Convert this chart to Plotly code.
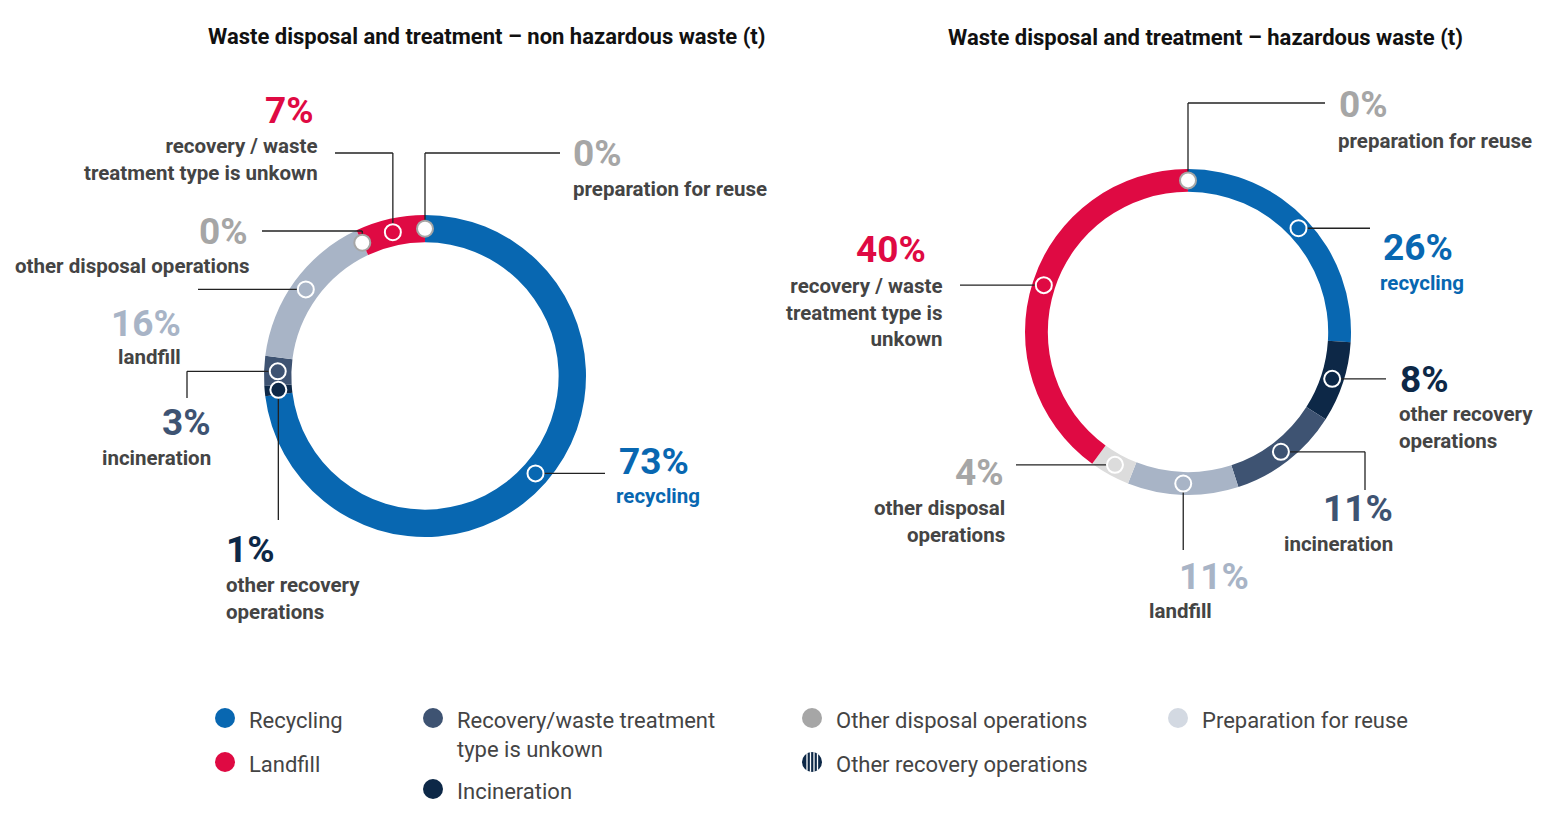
import math
import plotly.graph_objects as go

W, H = 1547, 836
OFF = 8  # page body offset
categories = ["preparation for reuse", "recycling", "other recovery operations", "incineration",
              "landfill", "other disposal operations", "recovery / waste treatment type is unkown"]
non_hazardous = [0, 73, 1, 3, 16, 0, 7]
hazardous = [0, 26, 8, 11, 11, 4, 40]
colors_left = ["#ffffff", "#0867b1", "#0d2847", "#3e5372", "#a8b4c6", "#ffffff", "#df0a43"]
colors_right = ["#ffffff", "#0867b1", "#0d2847", "#3e5372", "#a8b4c6", "#dcdcdc", "#df0a43"]
pct_colors = ["#a6a6a6", "#0867b1", "#0d2847", "#3e5372", "#a8b4c6", "#a6a6a6", "#df0a43"]
titles = ["Waste disposal and treatment – non hazardous waste (t)",
          "Waste disposal and treatment – hazardous waste (t)"]

legend_items = ["Recycling", "Landfill", "Recovery/waste treatment<br>type is unkown", "Incineration",
                "Other disposal operations", "Other recovery operations", "Preparation for reuse"]
legend_colors = ["#0867b1", "#df0a43", "#3e5372", "#0d2847", "#a6a6a6", "#0d2847", "#d3d9e2"]

charts = [
    dict(vals=non_hazardous, cols=colors_left, cx=425, cy=376, R=161, hole=0.83, title_x=487, title_y=36,
         labels=[
             dict(i=0, px=571, py=153, lx=571, ly=189, al="left", path=[(425, 153), (560, 153)]),
             dict(i=1, px=617, py=461, lx=614, ly=496, al="left", path=[(605, None)]),
             dict(i=2, px=224, py=549, lx=224, ly=598, al="left", path=[(None, 520)]),
             dict(i=3, px=213, py=422, lx=213, ly=458, al="right", path=[(187, None), (187, 398)]),
             dict(i=4, px=183, py=323, lx=183, ly=357, al="right", path=[(198, None)]),
             dict(i=5, px=250, py=231, lx=252, ly=266, al="right", path=[(None, 231), (262, 231)]),
             dict(i=6, px=316, py=110, lx=320, ly=159, al="right", path=[(None, 153), (335, 153)]),
         ]),
    dict(vals=hazardous, cols=colors_right, cx=1188, cy=332, R=163, hole=0.86, title_x=1205, title_y=37,
         labels=[
             dict(i=0, px=1337, py=104, lx=1336, ly=141, al="left", path=[(None, 103), (1325, 103)]),
             dict(i=1, px=1381, py=247, lx=1378, ly=283, al="left", path=[(1370, None)]),
             dict(i=2, px=1398, py=379, lx=1397, ly=427, al="left", path=[(1386, None)]),
             dict(i=3, px=1395, py=508, lx=1395, ly=544, al="right", path=[(1365, None), (1365, 490)]),
             dict(i=4, px=1214, py=576, lx=1180, ly=611, al="center", path=[(None, 550)]),
             dict(i=5, px=1006, py=472, lx=1007, ly=521, al="right", path=[(1016, None)]),
             dict(i=6, px=928, py=249, lx=945, ly=312, al="right", path=[(960, None)]),
         ]),
]
label_texts = ["preparation for reuse", "recycling", "other recovery<br>operations", "incineration",
               "landfill", "other disposal operations", "recovery / waste<br>treatment type is unkown"]
label_texts_r = ["preparation for reuse", "recycling", "other recovery<br>operations", "incineration",
                 "landfill", "other disposal<br>operations", "recovery / waste<br>treatment type is<br>unkown"]

fig = go.Figure()
fig.add_trace(go.Scatter(x=[OFF, W + OFF], y=[OFF, H + OFF], mode="markers", marker=dict(opacity=0),
                         hoverinfo="skip", showlegend=False))
shapes, annos = [], []
FONT = "Roboto"

for ci, ch in enumerate(charts):
    vals, R = ch["vals"], ch["R"]
    cxp, cyp = ch["cx"] - OFF, ch["cy"] - OFF
    fig.add_trace(go.Pie(values=vals, labels=categories, hole=ch["hole"], sort=False, direction="clockwise",
                         rotation=0, marker=dict(colors=ch["cols"], line=dict(width=0)), textinfo="none",
                         hoverinfo="skip", showlegend=False,
                         domain=dict(x=[(cxp - R) / W, (cxp + R) / W],
                                     y=[1 - (cyp + R) / H, 1 - (cyp - R) / H])))
    annos.append(dict(x=ch["title_x"], y=ch["title_y"], text="<b>" + titles[ci] + "</b>", showarrow=False,
                      font=dict(family=FONT, size=22, color="#111"), xanchor="center", yanchor="middle"))
    total = sum(vals)
    rmid = R * (1 + ch["hole"]) / 2
    cum = 0
    dots = []
    for v in vals:
        ang = (cum + v / 2) / total * 2 * math.pi
        dots.append((ch["cx"] + rmid * math.sin(ang), ch["cy"] - rmid * math.cos(ang)))
        cum += v
    texts = label_texts if ci == 0 else label_texts_r
    for lb in ch["labels"]:
        i = lb["i"]
        dx, dy = dots[i]
        pts = [(dx, dy)]
        for (x, y) in lb["path"]:
            px = pts[-1][0] if x is None else x
            py = pts[-1][1] if y is None else y
            pts.append((px, py))
        for a, b in zip(pts[:-1], pts[1:]):
            shapes.append(dict(type="line", xref="x", yref="y", x0=a[0], y0=a[1], x1=b[0], y1=b[1],
                               line=dict(color="#222", width=1.3), layer="above"))
        fill = ch["cols"][i]
        lc = "#a6a6a6" if fill == "#ffffff" else "white"
        r = 8
        shapes.append(dict(type="circle", xref="x", yref="y", x0=dx - r, x1=dx + r, y0=dy - r, y1=dy + r,
                           fillcolor=fill, line=dict(color=lc, width=2), layer="above"))
        anc = lb["al"]
        annos.append(dict(x=lb["px"], y=lb["py"], text="<b>%d%%</b>" % vals[i], showarrow=False,
                          font=dict(family=FONT, size=37, color=pct_colors[i]), xanchor=anc, yanchor="middle"))
        tc = "#0867b1" if i == 1 else "#444"
        annos.append(dict(x=lb["lx"], y=lb["ly"], text="<b>" + texts[i] + "</b>", showarrow=False, align=anc,
                          font=dict(family=FONT, size=20.5, color=tc), xanchor=anc, yanchor="middle"))

leg_pos = [(225, 718), (225, 762), (433, 718), (433, 789), (812, 718), (812, 762), (1178, 718)]
for k, (name, col) in enumerate(zip(legend_items, legend_colors)):
    x, y = leg_pos[k]
    r = 10
    shapes.append(dict(type="circle", xref="x", yref="y", x0=x - r, x1=x + r, y0=y - r, y1=y + r,
                       fillcolor=col, line=dict(width=0), layer="above"))
    if name == "Other recovery operations":
        for off in (-5, -1.5, 2, 5.5):
            hh = math.sqrt(max(r * r - off * off, 0))
            shapes.append(dict(type="line", xref="x", yref="y", x0=x + off, x1=x + off, y0=y - hh, y1=y + hh,
                               line=dict(color="white", width=1.3), layer="above"))
    annos.append(dict(x=x + 22, y=y - 12, text=name, showarrow=False, align="left",
                      font=dict(family=FONT, size=22, color="#444"), xanchor="left", yanchor="top"))

fig.update_layout(width=W, height=H, margin=dict(l=0, r=0, t=0, b=0), paper_bgcolor="white",
                  plot_bgcolor="white", shapes=shapes, annotations=annos,
                  xaxis=dict(range=[OFF, W + OFF], visible=False, fixedrange=True),
                  yaxis=dict(range=[H + OFF, OFF], visible=False, fixedrange=True))
fig.write_html("out.html")
